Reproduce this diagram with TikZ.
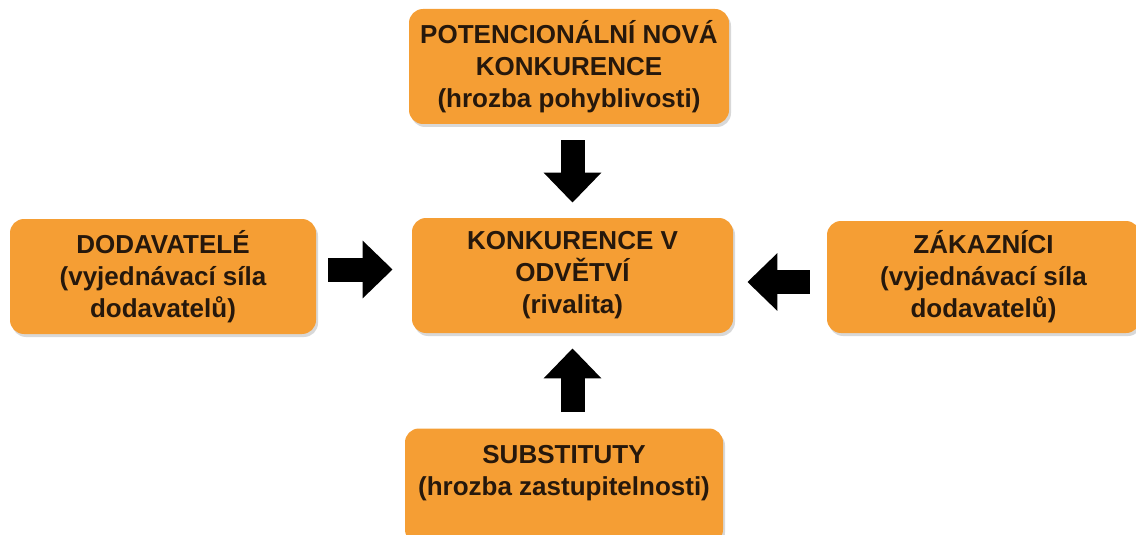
\documentclass[tikz,border=0pt]{standalone}
\usepackage{fontspec}
\setmainfont{Liberation Sans}
\usetikzlibrary{arrows.meta,shadows}
\definecolor{boxorange}{RGB}{245,158,52}
\definecolor{boxtext}{RGB}{38,24,12}
\begin{document}
\begin{tikzpicture}[x=0.5pt,y=-0.5pt,
  force/.style={fill=boxorange, rounded corners=7pt, align=center, inner sep=0pt,
    text=boxtext, font=\bfseries\fontsize{13}{16}\selectfont,
    drop shadow={shadow xshift=1pt, shadow yshift=-1.5pt, fill=black!30, opacity=0.5}},
  push/.style={line width=12pt, -{Triangle[length=15pt,width=28pt]}}]
  \useasboundingbox (0,0) rectangle (1136,535);
  % the five forces
  \node[force, minimum width=160pt, minimum height=57.5pt] (pot) at (569,66.5)
    {POTENCIONÁLNÍ NOVÁ\\KONKURENCE\\(hrozba pohyblivosti)};
  \node[force, minimum width=160.5pt, minimum height=57.5pt] (mid) at (572.5,275.5)
    {KONKURENCE V\\ODVĚTVÍ\\(rivalita)};
  \node[force, minimum width=153pt, minimum height=57.5pt] (dod) at (163,276.5)
    {DODAVATELÉ\\(vyjednávací síla\\dodavatelů)};
  \node[force, minimum width=156.5pt, minimum height=56pt] (zak) at (983.5,277)
    {ZÁKAZNÍCI\\(vyjednávací síla\\dodavatelů)};
  \node[force, minimum width=159pt, minimum height=57.5pt] (sub) at (564,486)
    {SUBSTITUTY\\(hrozba zastupitelnosti)\\~};
  % arrows into the middle
  \draw[push, shorten <=8pt, shorten >=7.5pt] (mid.north |- pot.south) -- (mid.north);
  \draw[push, shorten <=8pt, shorten >=7.5pt] (mid.south |- sub.north) -- (mid.south);
  \draw[push, shorten <=6pt, shorten >=9.5pt] ([yshift=3.5pt]dod.east) -- ([yshift=3.5pt]dod.east -| mid.west);
  \draw[push, shorten <=8.5pt, shorten >=7pt] ([yshift=-2.5pt]zak.west) -- ([yshift=-2.5pt]zak.west -| mid.east);
\end{tikzpicture}
\end{document}
